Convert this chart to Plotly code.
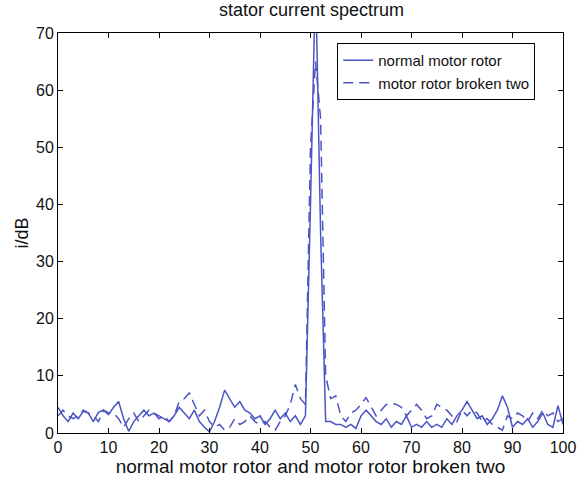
import plotly.graph_objects as go

x_vals = list(range(0, 101))

normal_rotor = [
    4.5, 3.0, 2.0, 3.5, 2.5, 3.8, 3.5, 2.0, 3.6, 4.0,
    3.2, 4.5, 5.5, 2.5, 0.3, 2.0, 3.0, 4.0, 3.0, 3.5,
    3.0, 2.5, 2.0, 3.0, 4.5, 3.5, 2.5, 4.0, 2.0, 1.0,
    0.2, 2.0, 4.5, 7.5, 6.0, 4.5, 5.5, 4.0, 3.5, 2.5,
    3.0, 1.5, 2.5, 4.0, 2.5, 3.5, 2.0, 3.0, 1.5, 3.0,
    40.0, 80.0, 35.0, 2.0, 2.0, 1.5, 1.5, 1.0, 1.5, 0.8,
    3.0, 4.0, 3.0, 2.0, 1.5, 2.5, 1.0, 2.0, 1.5, 3.0,
    1.0, 1.5, 1.0, 2.0, 1.0, 1.5, 1.0, 2.5, 1.5, 3.0,
    4.0, 5.5, 4.0, 2.5, 3.0, 1.5, 2.5, 4.0, 6.5, 4.5,
    1.0, 2.0, 1.5, 2.5, 1.0, 2.0, 3.5, 1.5, 1.0, 4.8,
    1.5,
]

broken_rotor = [
    3.0, 4.0, 3.0, 2.5, 3.0, 4.0, 3.5, 3.0, 2.0, 4.0,
    3.5, 3.5, 2.5, 1.0, 2.5, 3.5, 2.0, 3.0, 4.0, 3.5,
    2.5, 3.0, 2.0, 3.0, 5.5, 6.0, 7.0, 5.0, 3.0, 4.0,
    2.0, 1.0, 1.5, 0.5, 1.0, 2.5, 1.5, 2.0, 3.0, 2.0,
    1.5, 2.0, 1.0, 0.5, 2.0, 3.0, 5.0, 8.5, 6.0, 5.0,
    50.0, 65.0, 55.0, 10.0, 6.0, 6.5, 3.0, 2.0, 3.5, 4.0,
    5.0, 6.2, 4.5, 3.0, 4.0, 5.0, 5.2, 5.0, 4.5, 3.0,
    4.0, 5.0, 4.0, 2.5, 3.0, 5.0, 4.5, 4.0, 3.0, 2.0,
    4.0, 3.0, 4.0, 3.5, 2.0, 2.5, 1.5, 1.0, 0.5, 3.0,
    2.5, 3.5, 3.0, 2.0, 3.5, 2.5, 4.0, 3.0, 3.5, 2.0,
    2.5,
]

x_ticks = list(range(0, 101, 10))
y_ticks = list(range(0, 71, 10))

line_color = "#4b55c4"
font_family = "Liberation Sans, Arial, sans-serif"
text_color = "#111"

fig = go.Figure()
fig.add_trace(go.Scatter(
    x=x_vals, y=normal_rotor, mode="lines", name="normal motor rotor",
    line=dict(color=line_color, width=1.5),
))
fig.add_trace(go.Scatter(
    x=x_vals, y=broken_rotor, mode="lines", name="motor rotor broken two",
    line=dict(color=line_color, width=1.5, dash="10px,6px"),
))

axis_common = dict(
    showgrid=False, zeroline=False, showline=True, linecolor="black", linewidth=1,
    mirror="allticks", ticks="inside", ticklen=5, tickcolor="black", automargin=False,
    tickfont=dict(family=font_family, size=16, color=text_color),
)

fig.update_layout(
    width=579, height=480,
    margin=dict(l=58, r=16, t=33, b=47),
    paper_bgcolor="white", plot_bgcolor="white",
    title=dict(text="stator current spectrum", x=0.538, xanchor="center", y=0.993, yanchor="top",
               font=dict(family=font_family, size=18, color=text_color)),
    xaxis=dict(range=[0, 100], tickvals=x_ticks,
               title=dict(text="normal motor rotor and motor rotor broken two", standoff=4,
                          font=dict(family=font_family, size=19, color=text_color)),
               **axis_common),
    yaxis=dict(range=[0, 70], tickvals=y_ticks,
               title=dict(text="i/dB", standoff=2,
                          font=dict(family=font_family, size=18, color=text_color)),
               **axis_common),
    legend=dict(x=0.553, y=0.975, xanchor="left", yanchor="top",
                bgcolor="white", bordercolor="black", borderwidth=1,
                font=dict(family=font_family, size=15, color=text_color),
                tracegroupgap=0),
    showlegend=True,
)

fig.write_html("out.html")
